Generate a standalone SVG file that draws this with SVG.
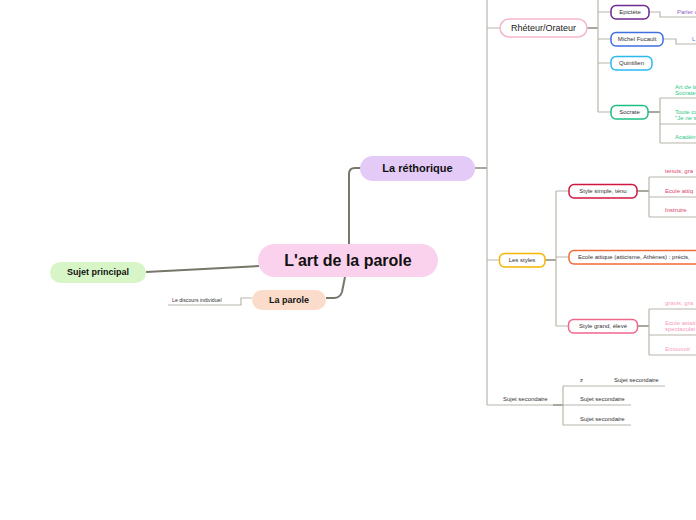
<svg xmlns="http://www.w3.org/2000/svg" width="696" height="520" viewBox="0 0 696 520">
<style>
text{font-family:"Liberation Sans",Arial,sans-serif;}
.main{fill:none;stroke:#77766a;stroke-width:2;}
.thin{fill:none;stroke:#b8b6ab;stroke-width:1.2;}
.mid{fill:none;stroke:#8c8b7e;stroke-width:1.5;}
.sm{font-size:6px;fill:#333;}
.lf{font-size:6px;}
.node{fill:#fff;stroke-width:1.5;}
</style>
<rect width="696" height="520" fill="#fff"/>
<g id="connectors">
  <path class="main" d="M349,244 V174 Q349,168 355,168 H361"/>
  <path class="main" d="M146,272 L259,266"/>
  <path class="main" d="M345,277 L342,292 Q340,298 334,298 H326"/>
  <path class="thin" d="M252,298 H241 V305 H168"/>
  <path class="mid" d="M475,168 H487"/>
  <path class="thin" d="M487,0 V405"/>
  <path class="thin" d="M487,28 H500 M487,260 H500 M487,405 H553"/>
  <path class="mid" d="M587,28 H598"/>
  <path class="thin" d="M598,0 V112 M598,12 H611 M598,39 H611 M598,63 H611 M598,112 H611"/>
  <path class="thin" d="M649,12 H660 V17 H696"/>
  <path class="thin" d="M663,39 H676 V44 H696"/>
  <path class="mid" d="M648,112 H660"/>
  <path class="thin" d="M660,98 V143 M660,98 H696 M660,124 H696 M660,143 H696"/>
  <path class="mid" d="M545,260 H556"/>
  <path class="thin" d="M556,191 V326 M556,191 H569 M556,257 H569 M556,326 H569"/>
  <path class="mid" d="M637,191 H649"/>
  <path class="thin" d="M649,177 V217 M649,177 H696 M649,197 H696 M649,217 H696"/>
  <path class="mid" d="M638,326 H649"/>
  <path class="thin" d="M649,309 V355 M649,309 H696 M649,335 H696 M649,355 H696"/>
  <path class="mid" d="M553,405 H563"/>
  <path class="thin" d="M563,386 V425 M563,386 H665 M563,405 H631 M563,425 H631"/>
</g>
<g id="central">
  <rect x="258" y="244" width="180" height="33" rx="16.5" fill="#fbd2ee"/>
  <text x="348" y="266" font-size="16" font-weight="bold" text-anchor="middle" fill="#111">L'art de la parole</text>
</g>
<g id="rethorique">
  <rect x="360" y="156" width="115" height="25" rx="12.5" fill="#e4cbf7"/>
  <text x="417.5" y="172" font-size="11" font-weight="bold" text-anchor="middle" fill="#111">La réthorique</text>
</g>
<g id="sujet-principal">
  <rect x="50" y="262" width="96" height="21" rx="10.5" fill="#d8f5c8"/>
  <text x="98" y="275" font-size="9" font-weight="bold" text-anchor="middle" fill="#111">Sujet principal</text>
</g>
<g id="parole">
  <rect x="252" y="290" width="74" height="20" rx="10" fill="#fbdccb"/>
  <text x="289" y="303" font-size="9" font-weight="bold" text-anchor="middle" fill="#111">La parole</text>
</g>
<g id="discours">
  <text x="172" y="302" font-size="5.2" fill="#333">Le discours individuel</text>
</g>
<g id="rheteur">
  <rect x="500" y="19" width="87" height="18" rx="9" class="node" stroke="#f4b6cd"/>
  <text x="543.5" y="31" font-size="9" text-anchor="middle" fill="#222">Rhéteur/Orateur</text>
</g>
<g id="epictete">
  <rect x="611" y="5.5" width="38" height="13.5" rx="5" class="node" stroke="#6b2a8e"/>
  <text x="630" y="14" class="sm" text-anchor="middle">Epictète</text>
  <text x="677" y="14" class="lf" fill="#8f5cc4">Parler c</text>
</g>
<g id="fucault">
  <rect x="611" y="32.5" width="52" height="13.5" rx="5" class="node" stroke="#3f6fe0"/>
  <text x="637" y="41" class="sm" text-anchor="middle">Michel Fucault</text>
  <text x="692" y="41" class="lf" fill="#4a7be6">L</text>
</g>
<g id="quintilien">
  <rect x="611" y="56.5" width="41" height="13.5" rx="5" class="node" stroke="#2bb9ef"/>
  <text x="631.5" y="65" class="sm" text-anchor="middle">Quintilien</text>
</g>
<g id="socrate">
  <rect x="611" y="105.5" width="37" height="13.5" rx="5" class="node" stroke="#1cbf84"/>
  <text x="629.5" y="114" class="sm" text-anchor="middle">Socrate</text>
  <text x="675" y="89" class="lf" fill="#2fc98a">Art de la</text>
  <text x="675" y="95" class="lf" fill="#2fc98a">Socrate</text>
  <text x="675" y="114" class="lf" fill="#2fc98a">Toute co</text>
  <text x="675" y="120" class="lf" fill="#2fc98a">"Je ne s</text>
  <text x="675" y="139" class="lf" fill="#2fc98a">Académ</text>
</g>
<g id="styles">
  <rect x="499.5" y="253.5" width="45.5" height="13.5" rx="5" class="node" stroke="#f5b600"/>
  <text x="522" y="262" class="sm" text-anchor="middle">Les styles</text>
</g>
<g id="style-simple">
  <rect x="569" y="184.5" width="68" height="13.5" rx="5" class="node" stroke="#d0173f"/>
  <text x="603" y="193" class="sm" text-anchor="middle">Style simple, ténu</text>
  <text x="665" y="173" class="lf" fill="#d9466a">tenuis, gra</text>
  <text x="665" y="193" class="lf" fill="#d9466a">Ecole attiq</text>
  <text x="665" y="212" class="lf" fill="#d9466a">Instruire</text>
</g>
<g id="ecole-attique">
  <rect x="569" y="250.5" width="140" height="13.5" rx="5" class="node" stroke="#f26b3a"/>
  <text x="578" y="259.2" class="sm">Ecole attique (atticisme, Athènes) : précis,</text>
</g>
<g id="style-grand">
  <rect x="568.5" y="319.5" width="69" height="13.5" rx="5" class="node" stroke="#f0678c"/>
  <text x="603" y="328" class="sm" text-anchor="middle">Style grand, élevé</text>
  <text x="665" y="305" class="lf" fill="#f79bbb">gravis, gra</text>
  <text x="665" y="325" class="lf" fill="#f79bbb">Ecole asiati</text>
  <text x="665" y="331" class="lf" fill="#f79bbb">spectaculai</text>
  <text x="665" y="351" class="lf" fill="#f79bbb">Emouvoir</text>
</g>
<g id="sujet-secondaire">
  <text x="503" y="401" class="sm">Sujet secondaire</text>
  <text x="580" y="382" class="sm">z</text>
  <text x="614" y="382" class="sm">Sujet secondaire</text>
  <text x="580" y="401" class="sm">Sujet secondaire</text>
  <text x="580" y="421" class="sm">Sujet secondaire</text>
</g>
</svg>
